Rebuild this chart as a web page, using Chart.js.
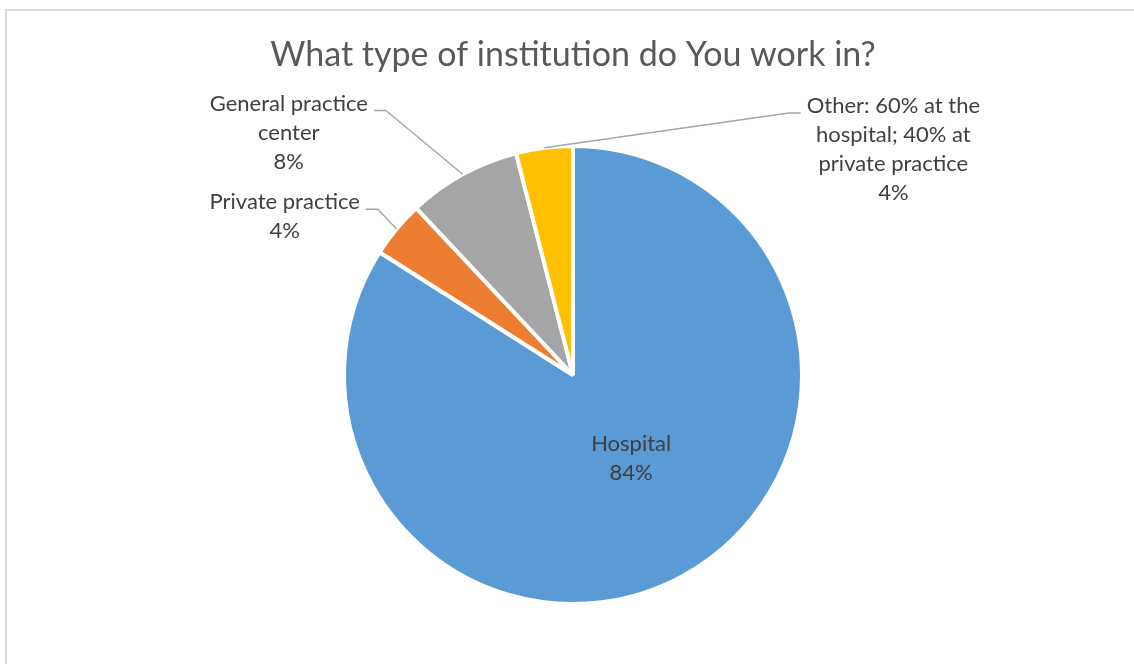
<!DOCTYPE html>
<html>
<head>
<meta charset="utf-8">
<script src="https://cdn.jsdelivr.net/npm/chart.js@4"></script>
<style>
  html, body { margin: 0; padding: 0; background: #fff; }
  #wrap { position: relative; width: 1134px; height: 664px; overflow: hidden; }
  #frame { position: absolute; left: 5px; top: 9px; width: 1200px; height: 700px; border: 2px solid #d9d9d9; box-sizing: border-box; }
  #myChart { position: absolute; left: 0; top: 0; }
</style>
</head>
<body>
<div id="wrap">
  <div id="frame"></div>
  <canvas id="myChart" width="1134" height="664"></canvas>
</div>
<script>
const categorias = ['Hospital', 'Private practice', 'General practice center', 'Other: 60% at the hospital; 40% at private practice']
const valores = [84, 4, 8, 4]
const cores = ['#5b9bd5', '#ed7d31', '#a5a5a5', '#ffc000']
// category names split the way they wrap on the chart
const linhasRotulo = [
    ['Hospital'],
    ['Private practice'],
    ['General practice', 'center'],
    ['Other: 60% at the', 'hospital; 40% at', 'private practice']
]

// where each label block sits, relative to the pie centre, in radius units
const posRotulo = [
    {dx: 0.254, dy: 0.366, dentro: true},
    {dx: -1.259, dy: -0.691},
    {dx: -1.241, dy: -1.059},
    {dx: 1.399, dy: -0.985}
]

const fonteRotulo = '22px Lato'
const alturaLinha = 29

const rotulosPlugin = {
    id: 'rotulos',
    afterDatasetsDraw(chart) {
        const ctx = chart.ctx
        const meta = chart.getDatasetMeta(0)
        ctx.save()
        ctx.font = fonteRotulo
        ctx.textAlign = 'center'
        ctx.textBaseline = 'middle'
        meta.data.forEach((arc, i) => {
            const p = arc.getProps(['x', 'y', 'startAngle', 'endAngle', 'outerRadius'], true)
            const r = p.outerRadius
            const linhas = linhasRotulo[i].concat([valores[i] + '%'])
            const cx = p.x + posRotulo[i].dx * r
            const cy = p.y + posRotulo[i].dy * r
            const y0 = cy - (linhas.length - 1) * alturaLinha / 2

            if (!posRotulo[i].dentro) {
                // leader line: short horizontal stub, then to the slice edge
                const meio = (p.startAngle + p.endAngle) / 2
                const ax = p.x + Math.cos(meio) * r
                const ay = p.y + Math.sin(meio) * r
                const w = ctx.measureText(linhas[0]).width
                const lado = ax > cx ? 1 : -1
                const sx = cx + lado * (w / 2 + 6)
                const sy = y0 + 7
                ctx.beginPath()
                ctx.moveTo(sx, sy)
                ctx.lineTo(sx + lado * 12, sy)
                ctx.lineTo(ax, ay)
                ctx.strokeStyle = '#a6a6a6'
                ctx.lineWidth = 1.4
                ctx.stroke()
            }

            ctx.fillStyle = '#404040'
            linhas.forEach((t, k) => ctx.fillText(t, cx, y0 + k * alturaLinha))
        })
        ctx.restore()
    }
}

const data = {
    labels: categorias,
    datasets: [{
        data: valores,
        backgroundColor: cores,
        borderColor: '#ffffff',
        borderWidth: 4,
        hoverOffset: 0,
        radius: 229
    }]
}

const opcoes = {
    responsive: false,
    animation: false,
    events: [],
    layout: {
        padding: {left: 12, right: 0, top: 0, bottom: 61}
    },
    plugins: {
        legend: {display: false},
        tooltip: {enabled: false},
        title: {
            display: true,
            text: 'What type of institution do You work in?',
            color: '#595959',
            font: {family: 'Lato', size: 34, weight: 'normal', lineHeight: 1.2},
            padding: {top: 35, bottom: 71.2}
        }
    }
}

const config = {
    type: 'pie',
    data: data,
    options: opcoes,
    plugins: [rotulosPlugin]
}

const grafico = new Chart(document.getElementById('myChart'), config)
</script>
</body>
</html>
